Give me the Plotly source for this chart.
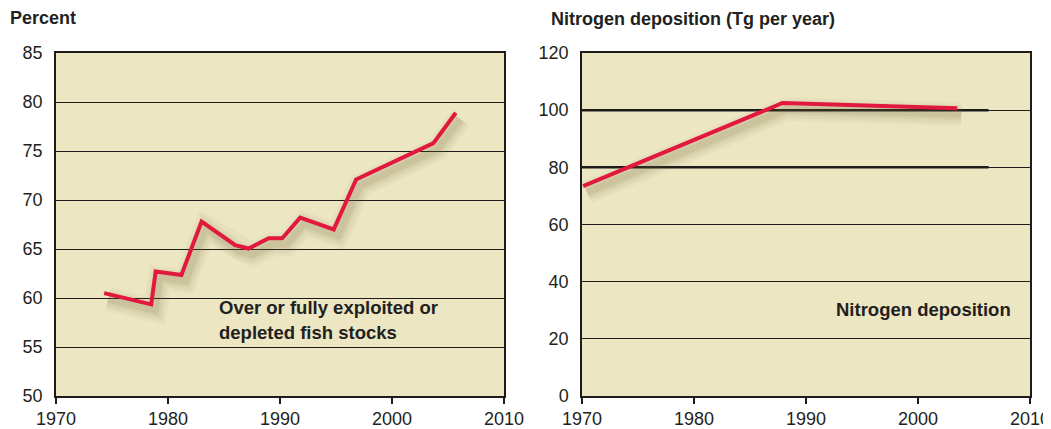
import plotly.graph_objects as go

# Left panel: share of fish stocks over or fully exploited / depleted (%)
fish_years = [1974.3, 1978.5, 1978.9, 1981.2, 1983.0, 1986.0, 1987.2, 1989.0,
              1990.2, 1991.8, 1994.8, 1996.8, 2003.7, 2005.7]
fish_pct = [60.5, 59.35, 62.7, 62.35, 67.8, 65.4, 65.05, 66.1,
            66.1, 68.2, 67.0, 72.1, 75.8, 78.9]

# Right panel: nitrogen deposition (Tg per year)
nit_years = [1970.1, 1987.9, 2003.5]
nit_tg = [73.4, 102.5, 100.7]

x_ticks = [1970, 1980, 1990, 2000, 2010]
fish_ticks = [50, 55, 60, 65, 70, 75, 80, 85]
nit_ticks = [0, 20, 40, 60, 80, 100, 120]

BG = "#ECE6C2"
RED = "#E2193F"
INK = "#1e1c1a"
FONT = "Liberation Sans"

# page body has an 8px margin, so the figure is 8px smaller than the window
W, H = 1043, 421

# shadow offsets (data units), about 4 px right and 6 px down
fish_dx, fish_dy = 0.36, 0.62
nit_dx, nit_dy = 0.36, 2.1

fig = go.Figure()

shadow_layers = [(24, 0.045), (18, 0.06), (12, 0.08), (7, 0.10)]
for w, a in shadow_layers:
    fig.add_trace(go.Scatter(x=fish_years, y=fish_pct, mode="lines", xaxis="x", yaxis="y",
                             line=dict(color=f"rgba(110,100,60,{a})", width=w),
                             hoverinfo="skip", showlegend=False))
    fig.add_trace(go.Scatter(x=nit_years, y=nit_tg, mode="lines", xaxis="x2", yaxis="y2",
                             line=dict(color=f"rgba(110,100,60,{a})", width=w),
                             hoverinfo="skip", showlegend=False))

fig.add_trace(go.Scatter(x=fish_years, y=fish_pct, mode="lines", xaxis="x3", yaxis="y3",
                         line=dict(color=RED, width=4), showlegend=False))
fig.add_trace(go.Scatter(x=nit_years, y=nit_tg, mode="lines", xaxis="x4", yaxis="y4",
                         line=dict(color=RED, width=4), showlegend=False))

left_dom = [48 / W, 496 / W]
right_dom = [574 / W, 1022 / W]
y_dom = [1 - 388 / H, 1 - 45 / H]

hidden = dict(visible=False, showgrid=False, zeroline=False, fixedrange=True, automargin=False)

real_x = dict(tickvals=x_ticks, ticks="outside", ticklen=6, tickwidth=1.5, tickcolor=INK,
              showline=True, linecolor=INK, linewidth=1.5, mirror=True, showgrid=False,
              zeroline=False, ticklabelstandoff=0, automargin=False,
              tickfont=dict(family=FONT, size=18, color="#231f20"))
real_y = dict(ticks="", showline=True, linecolor=INK, linewidth=1.5, mirror=True,
              showgrid=True, gridcolor=INK, gridwidth=1, zeroline=False, automargin=False,
              ticklabelstandoff=8, tickfont=dict(family=FONT, size=18, color="#231f20"))

fig.update_layout(
    width=W, height=H,
    margin=dict(l=0, r=0, t=0, b=0),
    paper_bgcolor="white", plot_bgcolor=BG,
    xaxis=dict(domain=left_dom, range=[1970 - fish_dx, 2010 - fish_dx], anchor="y", **hidden),
    yaxis=dict(domain=y_dom, range=[50 + fish_dy, 85 + fish_dy], anchor="x", **hidden),
    xaxis2=dict(domain=right_dom, range=[1970 - nit_dx, 2010 - nit_dx], anchor="y2", **hidden),
    yaxis2=dict(domain=y_dom, range=[0 + nit_dy, 120 + nit_dy], anchor="x2", **hidden),
    xaxis3=dict(overlaying="x", anchor="y3", range=[1970, 2010], **real_x),
    yaxis3=dict(overlaying="y", anchor="x3", range=[50, 85], tickvals=fish_ticks, **real_y),
    xaxis4=dict(overlaying="x2", anchor="y4", range=[1970, 2010], **real_x),
    yaxis4=dict(overlaying="y2", anchor="x4", range=[0, 120], tickvals=nit_ticks, **real_y),
)

# heavier rules at 80 and 100 on the nitrogen panel
for v in [80, 100]:
    fig.add_shape(type="line", xref="x4", yref="y4", x0=1970, x1=2006.3, y0=v, y1=v,
                  line=dict(color=INK, width=2.5), layer="below")

title_font = dict(family=FONT, size=18, color="#231f20")
label_font = dict(family=FONT, size=18.5, color="#231f20")
fig.add_annotation(text="<b>Percent</b>", xref="paper", yref="paper", x=0, y=1 - 10 / H,
                   xanchor="left", yanchor="middle", showarrow=False, font=title_font)
fig.add_annotation(text="<b>Nitrogen deposition (Tg per year)</b>", xref="paper", yref="paper",
                   x=541 / W, y=1 - 11 / H, xanchor="left", yanchor="middle",
                   showarrow=False, font=title_font)
fig.add_annotation(text="<b>Over or fully exploited or</b>", xref="x3", yref="y3", x=1984.4, y=59.0,
                   xanchor="left", yanchor="middle", showarrow=False, font=label_font)
fig.add_annotation(text="<b>depleted fish stocks</b>", xref="x3", yref="y3", x=1984.4, y=56.45,
                   xanchor="left", yanchor="middle", showarrow=False, font=label_font)
fig.add_annotation(text="<b>Nitrogen deposition</b>", xref="x4", yref="y4", x=2008.5, y=30.3,
                   xanchor="right", yanchor="middle", showarrow=False, font=label_font)

fig.write_html("out.html")
